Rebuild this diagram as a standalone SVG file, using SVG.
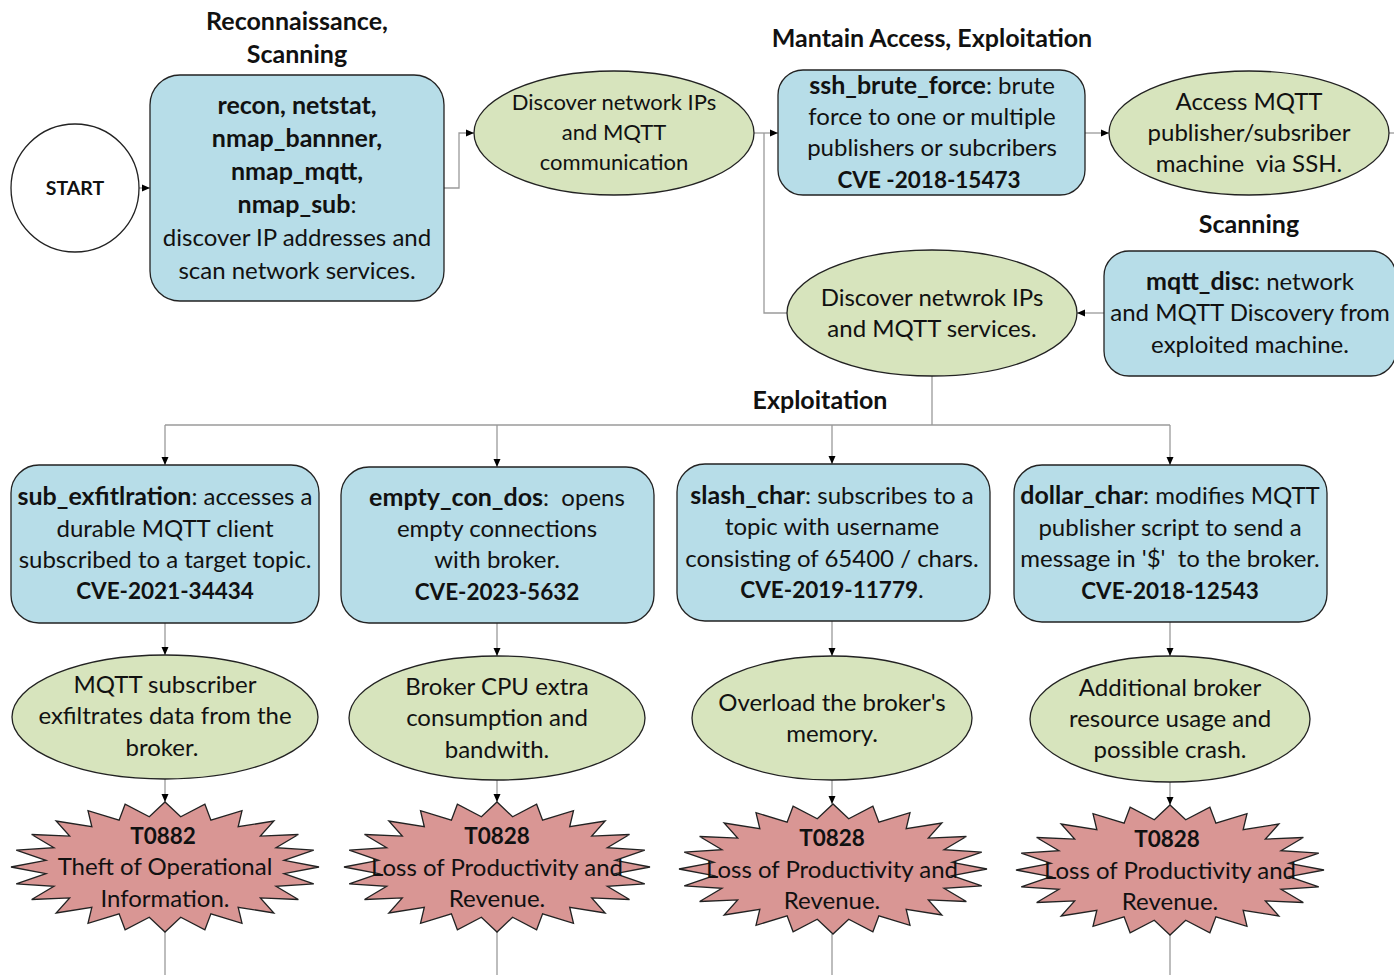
<svg xmlns="http://www.w3.org/2000/svg" xmlns:xlink="http://www.w3.org/1999/xlink" width="1394" height="975" viewBox="0 0 1394 975">
<style>
text{font-family:Lato,"Noto Sans","Liberation Sans",sans-serif;font-size:24px;fill:#111;text-anchor:middle}
.b{font-weight:bold;font-size:25px}
.cv{font-weight:bold;font-size:22.5px}
.e{font-size:22px}
.t{font-weight:bold;font-size:25px}
.box{fill:#b7dde8;stroke:#222;stroke-width:1.3}
.ell{fill:#d7e4bd;stroke:#222;stroke-width:1.3}
.star{fill:#d99694;stroke:#222;stroke-width:1.3}
.con{fill:none;stroke:#9a9a9a;stroke-width:1.3}
.arr{marker-end:url(#ah)}
</style>
<defs>
<marker id="ah" markerUnits="userSpaceOnUse" markerWidth="8" markerHeight="8" viewBox="0 0 8 8" refX="8" refY="4" orient="auto">
<path d="M0,0.5 L8,4 L0,7.5 Z" fill="#000"/>
</marker>
<polygon id="starshape" vector-effect="non-scaling-stroke" points="100,0 77.3,10.2 96.6,25.9 72.1,29.8 86.6,50 61.9,47.5 70.7,70.7 47.5,61.9 50,86.6 29.8,72.1 25.9,96.6 10.2,77.3 0,100 -10.2,77.3 -25.9,96.6 -29.8,72.1 -50,86.6 -47.5,61.9 -70.7,70.7 -61.9,47.5 -86.6,50 -72.1,29.8 -96.6,25.9 -77.3,10.2 -100,0 -77.3,-10.2 -96.6,-25.9 -72.1,-29.8 -86.6,-50 -61.9,-47.5 -70.7,-70.7 -47.5,-61.9 -50,-86.6 -29.8,-72.1 -25.9,-96.6 -10.2,-77.3 0,-100 10.2,-77.3 25.9,-96.6 29.8,-72.1 50,-86.6 47.5,-61.9 70.7,-70.7 61.9,-47.5 86.6,-50 72.1,-29.8 96.6,-25.9 77.3,-10.2"/>
</defs>
<rect width="1394" height="975" fill="#fff"/>

<g id="labels">
<text class="t" x="297" y="30">Reconnaissance,</text>
<text class="t" x="297" y="63">Scanning</text>
<text class="t" x="932" y="47">Mantain Access, Exploitation</text>
<text class="t" x="1249" y="233">Scanning</text>
<text class="t" x="820" y="409">Exploitation</text>
</g>

<g id="connectors">
<path class="con arr" d="M139,188 H150"/>
<path class="con arr" d="M444,188 H459 V133 H474"/>
<path class="con arr" d="M754,133 H778"/>
<path class="con" d="M787,313 H764 V133"/>
<path class="con arr" d="M1085,133 H1109"/>
<path class="con" d="M1389,133 H1394"/>
<path class="con arr" d="M1104,313 H1077"/>
<path class="con" d="M932,376 V425 M165,425 H1170"/>
<path class="con arr" d="M165,425 V465"/>
<path class="con arr" d="M497,425 V467"/>
<path class="con arr" d="M832,425 V464"/>
<path class="con arr" d="M1170,425 V465"/>
<path class="con arr" d="M165,623 V655"/>
<path class="con arr" d="M497,623 V656"/>
<path class="con arr" d="M832,621 V656"/>
<path class="con arr" d="M1170,622 V656"/>
<path class="con arr" d="M165,779 V802"/>
<path class="con arr" d="M497,780 V802"/>
<path class="con arr" d="M832,780 V804"/>
<path class="con arr" d="M1170,782 V805"/>
<path class="con" d="M165,932 V975 M497,932 V975 M832,934 V975 M1170,935 V975"/>
</g>

<g id="start">
<circle cx="75" cy="188" r="64" fill="#fff" stroke="#222" stroke-width="1.3"/>
<text x="75" y="195" style="font-size:19.5px;font-weight:bold">START</text>
</g>

<g id="recon">
<rect class="box" x="150" y="75" width="294" height="226" rx="30"/>
<text x="297" y="114"><tspan class="b">recon, netstat,</tspan></text>
<text x="297" y="147"><tspan class="b">nmap_bannner,</tspan></text>
<text x="297" y="180"><tspan class="b">nmap_mqtt,</tspan></text>
<text x="297" y="213"><tspan class="b">nmap_sub</tspan>:</text>
<text x="297" y="246">discover IP addresses and</text>
<text x="297" y="279">scan network services.</text>
</g>

<g id="discover1">
<ellipse class="ell" cx="614" cy="133" rx="140" ry="62"/>
<text class="e" x="614" y="110">Discover network IPs</text>
<text class="e" x="614" y="140">and MQTT</text>
<text class="e" x="614" y="170">communication</text>
</g>

<g id="ssh_brute_force">
<rect class="box" x="778" y="70" width="307" height="125" rx="25"/>
<text x="932" y="94"><tspan class="b">ssh_brute_force</tspan>: brute</text>
<text x="932" y="125">force to one or multiple</text>
<text x="932" y="156">publishers or subcribers</text>
<text x="929" y="188" class="cv">CVE -2018-15473</text>
</g>

<g id="access">
<ellipse class="ell" cx="1249" cy="133" rx="140" ry="62"/>
<text x="1249" y="110">Access MQTT</text>
<text x="1249" y="141">publisher/subsriber</text>
<text x="1249" y="172">machine&#160; via SSH.</text>
</g>

<g id="mqtt_disc">
<rect class="box" x="1104" y="251" width="292" height="125" rx="25"/>
<text x="1250" y="290"><tspan class="b">mqtt_disc</tspan>: network</text>
<text x="1250" y="321">and MQTT Discovery from</text>
<text x="1250" y="353">exploited machine.</text>
</g>

<g id="discover2">
<ellipse class="ell" cx="932" cy="313" rx="145" ry="63"/>
<text x="932" y="306">Discover netwrok IPs</text>
<text x="932" y="337">and MQTT services.</text>
</g>

<g id="sub_exfitlration">
<rect class="box" x="11" y="465" width="308" height="158" rx="28"/>
<text x="165" y="505"><tspan class="b">sub_exfitlration</tspan>: accesses a</text>
<text x="165" y="537">durable MQTT client</text>
<text x="165" y="568">subscribed to a target topic.</text>
<text x="165" y="599" class="cv">CVE-2021-34434</text>
</g>

<g id="empty_con_dos">
<rect class="box" x="341" y="467" width="313" height="156" rx="28"/>
<text x="497" y="506"><tspan class="b">empty_con_dos</tspan>:&#160; opens</text>
<text x="497" y="537">empty connections</text>
<text x="497" y="568">with broker.</text>
<text x="497" y="600" class="cv">CVE-2023-5632</text>
</g>

<g id="slash_char">
<rect class="box" x="677" y="464" width="313" height="157" rx="28"/>
<text x="832" y="504"><tspan class="b">slash_char</tspan>: subscribes to a</text>
<text x="832" y="535">topic with username</text>
<text x="832" y="567">consisting of 65400 / chars.</text>
<text x="832" y="598"><tspan class="cv">CVE-2019-11779</tspan>.</text>
</g>

<g id="dollar_char">
<rect class="box" x="1014" y="465" width="313" height="157" rx="28"/>
<text x="1170" y="504"><tspan class="b">dollar_char</tspan>: modifies MQTT</text>
<text x="1170" y="536">publisher script to send a</text>
<text x="1170" y="567">message in '$'&#160; to the broker.</text>
<text x="1170" y="599" class="cv">CVE-2018-12543</text>
</g>

<g id="effect1">
<ellipse class="ell" cx="165" cy="717" rx="153" ry="62"/>
<text x="165" y="693">MQTT subscriber</text>
<text x="165" y="724">exfiltrates data from the</text>
<text x="162" y="756">broker.</text>
</g>

<g id="effect2">
<ellipse class="ell" cx="497" cy="718" rx="148" ry="62"/>
<text x="497" y="695">Broker CPU extra</text>
<text x="497" y="726">consumption and</text>
<text x="497" y="758">bandwith.</text>
</g>

<g id="effect3">
<ellipse class="ell" cx="832" cy="718" rx="140" ry="62"/>
<text x="832" y="711">Overload the broker's</text>
<text x="832" y="742">memory.</text>
</g>

<g id="effect4">
<ellipse class="ell" cx="1170" cy="719" rx="140" ry="63"/>
<text x="1170" y="696">Additional broker</text>
<text x="1170" y="727">resource usage and</text>
<text x="1170" y="758">possible crash.</text>
</g>

<g id="impact1">
<use xlink:href="#starshape" class="star" transform="translate(165,867) scale(1.54,0.65)"/>
<text x="163" y="844" class="cv">T0882</text>
<text x="165" y="875">Theft of Operational</text>
<text x="165" y="907">Information.</text>
</g>

<g id="impact2">
<use xlink:href="#starshape" class="star" transform="translate(497,867) scale(1.53,0.65)"/>
<text x="497" y="844" class="cv">T0828</text>
<text x="497" y="876">Loss of Productivity and</text>
<text x="497" y="907">Revenue.</text>
</g>

<g id="impact3">
<use xlink:href="#starshape" class="star" transform="translate(833,869) scale(1.54,0.65)"/>
<text x="832" y="846" class="cv">T0828</text>
<text x="832" y="878">Loss of Productivity and</text>
<text x="832" y="909">Revenue.</text>
</g>

<g id="impact4">
<use xlink:href="#starshape" class="star" transform="translate(1170,870) scale(1.54,0.65)"/>
<text x="1167" y="847" class="cv">T0828</text>
<text x="1170" y="879">Loss of Productivity and</text>
<text x="1170" y="910">Revenue.</text>
</g>
</svg>
